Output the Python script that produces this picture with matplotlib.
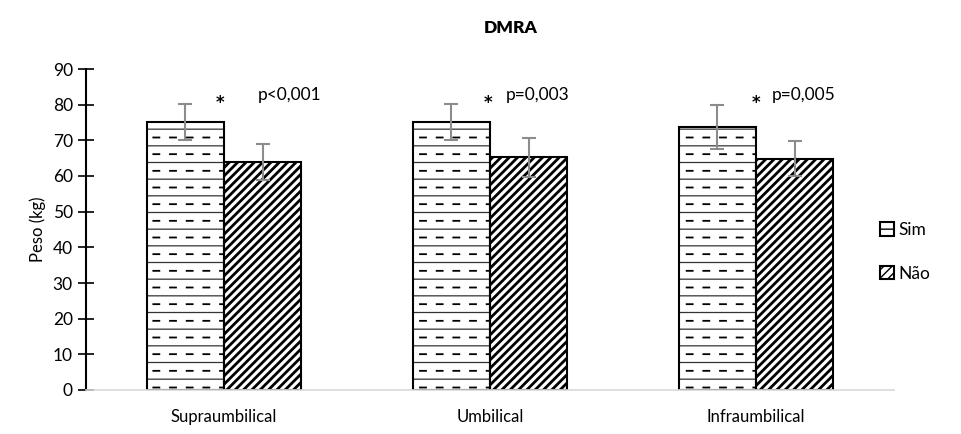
import numpy as np
import matplotlib
matplotlib.use("Agg")
import matplotlib.pyplot as plt
import matplotlib.hatch as mhatch
import matplotlib.patches as mpatches
from matplotlib.path import Path

# ---------------- data ----------------
categories = ["Supraumbilical", "Umbilical", "Infraumbilical"]
sim_values = [75.2, 75.2, 73.8]
sim_errors = [5.0, 5.0, 6.2]
nao_values = [64.0, 65.2, 64.8]
nao_errors = [5.1, 5.4, 4.9]
p_labels = ["p<0,001", "p=0,003", "p=0,005"]
series_names = ["Sim", "Não"]
yticks = [0, 10, 20, 30, 40, 50, 60, 70, 80, 90]


# ------------- custom horizontal hatch: '-' dashed rows, '--' solid rows -------------
class DashedHorizontalHatch(mhatch.HatchPatternBase):
    def __init__(self, hatch, density):
        c = hatch.count('-')
        self.mode = c
        self.n = int(density) if c else 0
        n = self.n
        if c == 1:
            self.num_vertices = n * n * 2
        elif c >= 2:
            self.num_vertices = n * 2
        else:
            self.num_vertices = 0

    def set_vertices_and_codes(self, vertices, codes):
        n = self.n
        step = 1.0 / n
        dash = 0.06
        verts = []
        for i in range(n):
            if self.mode >= 2:
                y = (i + 0.25) * step
                verts += [(0.0, y), (1.0, y)]
            else:
                yd = (i + 0.75) * step
                for j in range(n):
                    x0 = j * step + 0.2 * step
                    verts += [(x0, yd), (x0 + dash, yd)]
        vertices[:] = np.array(verts)
        codes[0::2] = Path.MOVETO
        codes[1::2] = Path.LINETO


mhatch._hatch_types = [DashedHorizontalHatch if t is mhatch.HorizontalHatch else t
                       for t in mhatch._hatch_types]

FONT = "Lato"
plt.rcParams["font.family"] = [FONT, "DejaVu Sans"]

fig = plt.figure(figsize=(9.61, 4.34), dpi=100)
ax = fig.add_axes([86 / 961, 44 / 434, 808 / 961, 321 / 434])

x = np.arange(len(categories))
w = 0.29


def set_hlw(bars, lw):
    for p in bars:
        if hasattr(p, "set_hatch_linewidth"):
            p.set_hatch_linewidth(lw)


# Sim: thin dark solid rows underneath, black dashed rows on top
with plt.rc_context({"hatch.linewidth": 0.9, "hatch.color": "#333333"}):
    b0 = ax.bar(x - w / 2, sim_values, w, color="white", edgecolor="#333333",
                linewidth=0, hatch="--", zorder=2)
set_hlw(b0, 0.9)
with plt.rc_context({"hatch.linewidth": 1.3}):
    b1 = ax.bar(x - w / 2, sim_values, w, color="none", edgecolor="black",
                linewidth=1.5, hatch="-", label=series_names[0], zorder=2.1)
set_hlw(b1, 1.3)
with plt.rc_context({"hatch.linewidth": 2.0}):
    b2 = ax.bar(x + w / 2, nao_values, w, color="white", edgecolor="black",
                linewidth=1.5, hatch="////", label=series_names[1], zorder=2)
set_hlw(b2, 2.0)

ecol = "#8c8c8c"
ax.errorbar(x - w / 2, sim_values, yerr=sim_errors, fmt="none", ecolor=ecol,
            elinewidth=1.5, capsize=5, capthick=1.5, zorder=3)
ax.errorbar(x + w / 2, nao_values, yerr=nao_errors, fmt="none", ecolor=ecol,
            elinewidth=1.5, capsize=5, capthick=1.5, zorder=3)

# significance annotations
star_dx = [-0.015, -0.008, 0.0]
text_dx = [0.125, 0.06, 0.06]
for i, lab in enumerate(p_labels):
    ax.text(x[i] + star_dx[i], 80.5, "*", ha="center", va="center",
            fontsize=12, fontweight="bold", color="black", family="DejaVu Sans")
    ax.text(x[i] + text_dx[i], 82.8, lab, ha="left", va="center",
            fontsize=12.5, color="black")

ax.set_xlim(-0.519, 2.519)
ax.set_ylim(0, 90)
ax.set_yticks(yticks)
ax.set_xticks(x)
ax.set_xticklabels(categories, fontsize=12)
ax.tick_params(axis="x", length=0, pad=14)
ax.tick_params(axis="y", direction="inout", length=11, width=1.2,
               labelsize=12.5, pad=4)

for s in ["top", "right"]:
    ax.spines[s].set_visible(False)
ax.spines["left"].set_linewidth(1.5)
ax.spines["left"].set_color("black")
ax.spines["bottom"].set_color("#d9d9d9")
ax.spines["bottom"].set_linewidth(1.2)

ax.set_ylabel("Peso (kg)", fontsize=12, labelpad=5)

fig.text(511 / 961, 1 - 28 / 434, "DMRA", ha="center", va="center",
         fontsize=12.5, fontweight="heavy")

# legend proxy for Sim (box with a horizontal rule)
with plt.rc_context({"hatch.linewidth": 1.5}):
    sim_handle = mpatches.Patch(facecolor="white", edgecolor="black",
                                linewidth=1.5, hatch="--", label=series_names[0])
fig.legend(handles=[sim_handle, b2], labels=series_names, loc="center left",
           bbox_to_anchor=(864 / 961, 1 - 252 / 434), frameon=False,
           handlelength=0.8, handleheight=0.8,
           handletextpad=0.3, labelspacing=1.6,
           prop={"size": 12.5})

fig.savefig("out.png", dpi=100)
